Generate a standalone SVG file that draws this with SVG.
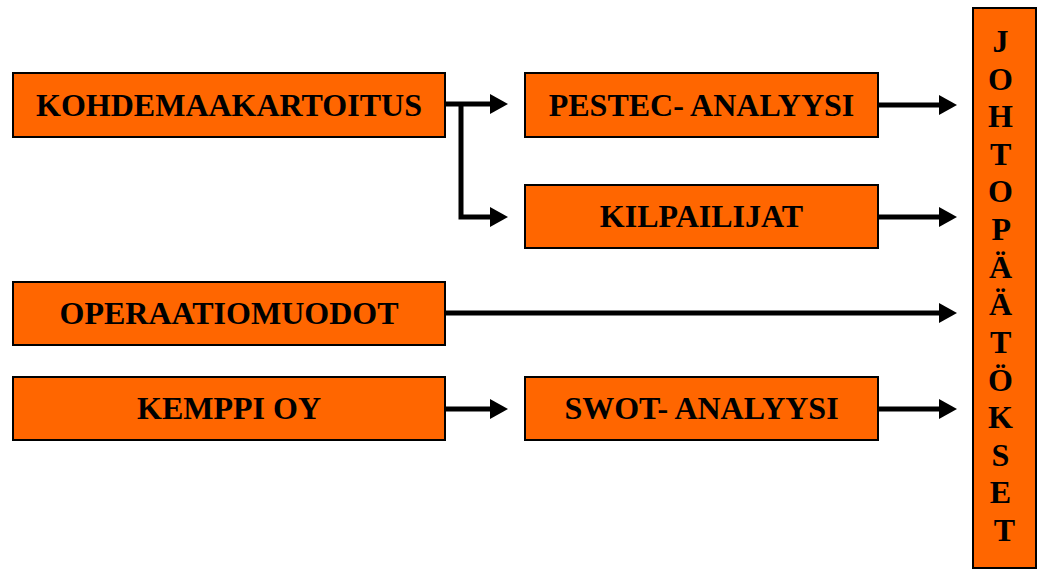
<svg xmlns="http://www.w3.org/2000/svg" width="1037" height="571" viewBox="0 0 1037 571">
<style>
.box{fill:#FF6600;stroke:#000;stroke-width:2}
.t{font-family:"Liberation Serif","Times New Roman",serif;font-weight:bold;font-size:32px;fill:#000;text-anchor:middle}
.c{fill:none;stroke:#000;stroke-width:5}
</style>
<defs>
<marker id="ah" markerWidth="18" markerHeight="22" refX="1" refY="11" orient="auto" markerUnits="userSpaceOnUse" overflow="visible">
<path d="M0,1 L18,11 L0,21 Z" fill="#000"/>
</marker>
</defs>
<rect width="1037" height="571" fill="#fff"/>
<g id="connectors">
<path class="c" d="M445,104 H491" marker-end="url(#ah)"/>
<path class="c" d="M461,104 V217 H491" marker-end="url(#ah)"/>
<path class="c" d="M878,105 H940" marker-end="url(#ah)"/>
<path class="c" d="M878,217 H940" marker-end="url(#ah)"/>
<path class="c" d="M445,313 H940" marker-end="url(#ah)"/>
<path class="c" d="M445,409 H491" marker-end="url(#ah)"/>
<path class="c" d="M878,409 H940" marker-end="url(#ah)"/>
</g>
<g id="kohdemaakartoitus">
<rect class="box" x="13" y="73" width="432" height="64"/>
<text class="t" x="229" y="115.5">KOHDEMAAKARTOITUS</text>
</g>
<g id="pestec">
<rect class="box" x="525" y="73" width="353" height="64"/>
<text class="t" x="701.5" y="115.5">PESTEC- ANALYYSI</text>
</g>
<g id="kilpailijat">
<rect class="box" x="525" y="185" width="353" height="63"/>
<text class="t" x="701.5" y="227">KILPAILIJAT</text>
</g>
<g id="operaatiomuodot">
<rect class="box" x="13" y="282" width="432" height="63"/>
<text class="t" x="229" y="324">OPERAATIOMUODOT</text>
</g>
<g id="kemppi">
<rect class="box" x="13" y="377" width="432" height="63"/>
<text class="t" x="229" y="419">KEMPPI OY</text>
</g>
<g id="swot">
<rect class="box" x="525" y="377" width="353" height="63"/>
<text class="t" x="701.5" y="419">SWOT- ANALYYSI</text>
</g>
<g id="johtopaatokset">
<rect class="box" x="973" y="8" width="63" height="560"/>
<text class="t" x="1004.5">
<tspan x="1004.5" y="52">J</tspan>
<tspan x="1004.5" y="89.5">O</tspan>
<tspan x="1004.5" y="127">H</tspan>
<tspan x="1004.5" y="165">T</tspan>
<tspan x="1004.5" y="202">O</tspan>
<tspan x="1004.5" y="240">P</tspan>
<tspan x="1004.5" y="277.5">Ä</tspan>
<tspan x="1004.5" y="315">Ä</tspan>
<tspan x="1004.5" y="353">T</tspan>
<tspan x="1004.5" y="390.5">Ö</tspan>
<tspan x="1004.5" y="428">K</tspan>
<tspan x="1004.5" y="466">S</tspan>
<tspan x="1004.5" y="503">E</tspan>
<tspan x="1004.5" y="541">T</tspan>
</text>
</g>
</svg>
